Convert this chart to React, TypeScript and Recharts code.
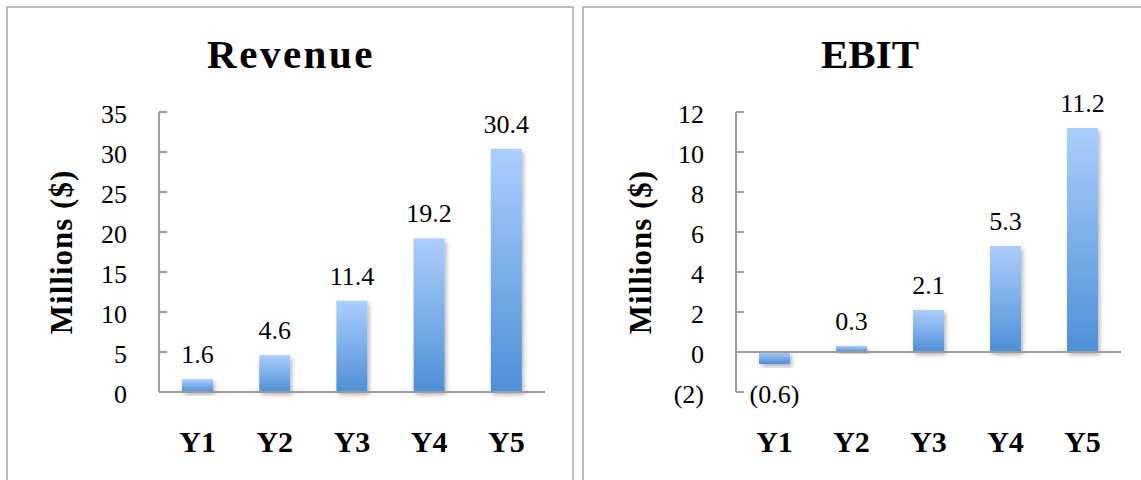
import React from "react";
import { BarChart, Bar, XAxis, YAxis, LabelList, ReferenceLine } from "recharts";

const YEARS = ["Y1", "Y2", "Y3", "Y4", "Y5"];
const REVENUE = [1.6, 4.6, 11.4, 19.2, 30.4];
const EBIT = [-0.6, 0.3, 2.1, 5.3, 11.2];
const REVENUE_TICKS = [0, 5, 10, 15, 20, 25, 30, 35];
const EBIT_TICKS = [-2, 0, 2, 4, 6, 8, 10, 12];

const SERIF = '"Liberation Serif", "Times New Roman", serif';
const AXIS_GRAY = "#9c9c9c";
const BORDER_GRAY = "#a8a8a8";

// negatives shown in accounting style: (0.6)
const fmt = (v: number) => (v < 0 ? `(${Math.abs(v)})` : `${v}`);

const revenueRows = YEARS.map((name, i) => ({ name, value: REVENUE[i] }));
const ebitRows = YEARS.map((name, i) => ({ name, value: EBIT[i] }));

function YTick(props: any) {
  const { x, y, payload } = props;
  return (
    <g>
      <line x1={x} x2={x + 8} y1={y} y2={y} stroke={AXIS_GRAY} strokeWidth={2} />
      <text x={x - 32} y={y + 11} textAnchor="end" fontFamily={SERIF} fontSize={26} fill="#000">
        {fmt(payload.value)}
      </text>
    </g>
  );
}

function CatTick(props: any) {
  const { x, y, payload } = props;
  return (
    <text x={x} y={y + 60} textAnchor="middle" fontFamily={SERIF} fontWeight="bold" fontSize={30} fill="#000">
      {payload.value}
    </text>
  );
}

function ValueLabel(props: any) {
  const x = Number(props.x);
  const y = Number(props.y);
  const w = Number(props.width);
  const h = Number(props.height);
  const v = Number(props.value);
  const top = Math.min(y, y + h);
  const bottom = Math.max(y, y + h);
  const ty = v < 0 ? bottom + 39 : top - 16;
  return (
    <text x={x + w / 2} y={ty} textAnchor="middle" fontFamily={SERIF} fontSize={26} fill="#000">
      {fmt(v)}
    </text>
  );
}

function BarShape(props: any) {
  const { x, y, width, height } = props;
  const top = Math.min(y, y + height);
  const h = Math.abs(height);
  return (
    <rect x={x} y={top} width={width} height={h} fill="url(#barGrad)" filter="url(#barShadow)" />
  );
}

function Panel({ rows, ticks, domain, width, plotLeft, right, zeroLine }: any) {
  return (
    <BarChart
      width={width}
      height={480}
      data={rows}
      margin={{ top: 112, right, bottom: 28, left: 0 }}
    >
      <XAxis
        dataKey="name"
        height={60}
        axisLine={zeroLine ? false : { stroke: AXIS_GRAY, strokeWidth: 2 }}
        tickLine={false}
        tickSize={0}
        tickMargin={0}
        tick={(p: any) => <CatTick {...p} />}
      />
      <YAxis
        width={plotLeft}
        domain={domain}
        ticks={ticks}
        interval={0}
        axisLine={{ stroke: AXIS_GRAY, strokeWidth: 2 }}
        tickLine={false}
        tickSize={0}
        tickMargin={0}
        tick={(p: any) => <YTick {...p} />}
      />
      <Bar dataKey="value" barSize={31} isAnimationActive={false} shape={(p: any) => <BarShape {...p} />}>
        <LabelList dataKey="value" content={(p: any) => <ValueLabel {...p} />} />
      </Bar>
      {zeroLine && <ReferenceLine y={0} stroke={AXIS_GRAY} strokeWidth={2} />}
    </BarChart>
  );
}

export default function App() {
  return (
    <div
      style={{
        position: "absolute",
        left: 0,
        top: 0,
        width: 1141,
        height: 480,
        background: "#fff",
        overflow: "hidden",
      }}
    >
      <svg width={1141} height={480} style={{ position: "absolute", left: 0, top: 0 }}>
        <defs>
          <linearGradient id="barGrad" x1="0" y1="0" x2="0" y2="1">
            <stop offset="0%" stopColor="#abcefc" />
            <stop offset="100%" stopColor="#4e8fd7" />
          </linearGradient>
          <filter id="barShadow" x="-30%" y="-30%" width="160%" height="160%">
            <feDropShadow dx="2" dy="3" stdDeviation="2" floodColor="#000" floodOpacity="0.28" />
          </filter>
        </defs>
        <rect x={7} y={7} width={566} height={500} fill="none" stroke={BORDER_GRAY} strokeWidth={1.5} />
        <rect x={583} y={7} width={600} height={500} fill="none" stroke={BORDER_GRAY} strokeWidth={1.5} />
        <text x={291} y={68} textAnchor="middle" fontFamily={SERIF} fontWeight="bold" fontSize={41} letterSpacing={2.5}>
          Revenue
        </text>
        <text x={870} y={68} textAnchor="middle" fontFamily={SERIF} fontWeight="bold" fontSize={41}>
          EBIT
        </text>
        <text
          x={72}
          y={252}
          transform="rotate(-90 72 252)"
          textAnchor="middle"
          fontFamily={SERIF}
          fontWeight="bold"
          fontSize={31}
          letterSpacing={1}
        >
          Millions ($)
        </text>
        <text
          x={651}
          y={252}
          transform="rotate(-90 651 252)"
          textAnchor="middle"
          fontFamily={SERIF}
          fontWeight="bold"
          fontSize={31}
          letterSpacing={1}
        >
          Millions ($)
        </text>
      </svg>
      <div style={{ position: "absolute", left: 0, top: 0 }}>
        <Panel rows={revenueRows} ticks={REVENUE_TICKS} domain={[0, 35]} width={573} plotLeft={159} right={28} />
      </div>
      <div style={{ position: "absolute", left: 583, top: 0 }}>
        <Panel rows={ebitRows} ticks={EBIT_TICKS} domain={[-2, 12]} width={558} plotLeft={153} right={20} zeroLine />
      </div>
    </div>
  );
}
